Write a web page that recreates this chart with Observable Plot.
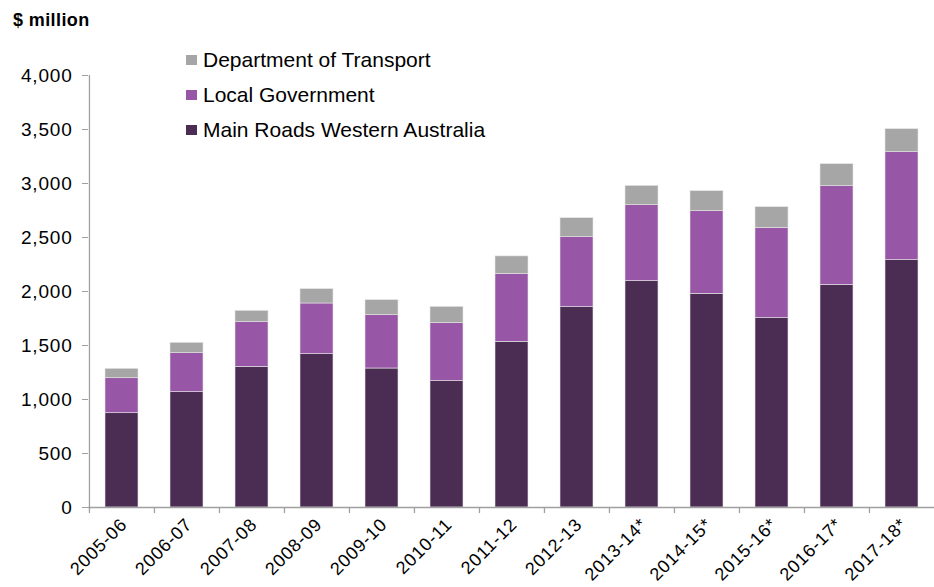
<!DOCTYPE html>
<html>
<head>
<meta charset="utf-8">
<script src="https://cdn.jsdelivr.net/npm/d3@7"></script>
<script src="https://cdn.jsdelivr.net/npm/@observablehq/plot@0.6"></script>
<style>
  body { margin: 0; background: #fff; }
  #wrap { position: relative; width: 934px; height: 587px; overflow: hidden; font-family: "Liberation Sans", Arial, sans-serif; }
  #unit { position: absolute; left: 13px; top: 10px; font-size: 18px; font-weight: bold; letter-spacing: 0.4px; color: #000; }
  #legend { position: absolute; left: 186px; top: 42px; font-size: 21px; color: #000; }
  .row { display: flex; align-items: center; height: 35px; }
  .sw { width: 11px; height: 10px; margin-right: 6px; }
  g[aria-label="y-axis tick label"] text { letter-spacing: 0.8px; }
  g[aria-label="x-axis tick label"] text { letter-spacing: 0.8px; }
</style>
</head>
<body>
<div id="wrap">
  <div id="chart"></div>
  <div id="unit">$ million</div>
  <div id="legend"></div>
</div>
<script>
const categories = ["2005-06","2006-07","2007-08","2008-09","2009-10","2010-11","2011-12","2012-13","2013-14*","2014-15*","2015-16*","2016-17*","2017-18*"];
const mainRoads = [873, 1068, 1302, 1420, 1287, 1170, 1534, 1855, 2096, 1978, 1753, 2062, 2290];
const localGov = [324, 361, 414, 469, 494, 537, 630, 648, 703, 766, 836, 913, 1000];
const transport = [87, 96, 105, 133, 139, 151, 161, 176, 179, 185, 192, 204, 213];
const seriesNames = ["Main Roads Western Australia", "Local Government", "Department of Transport"];
const seriesColors = ["#4b2d54", "#9856a6", "#a6a6a6"];
const yTicks = [0, 500, 1000, 1500, 2000, 2500, 3000, 3500, 4000];

const seriesValues = [mainRoads, localGov, transport];
const rows = [];
seriesNames.forEach((s, si) => categories.forEach((c, i) => rows.push({cat: c, series: s, value: seriesValues[si][i]})));

const W = 934, H = 587, mL = 88, mR = 0, mT = 75, mB = 80;
const step = (W - mL - mR) / categories.length;
const axisGrey = "#a0a0a0";

const chart = Plot.plot({
  width: W, height: H,
  marginLeft: mL, marginRight: mR, marginTop: mT, marginBottom: mB,
  style: {fontFamily: "Liberation Sans, Arial, sans-serif", background: "white", color: "#000", overflow: "visible"},
  x: {domain: categories, paddingInner: 0.5, paddingOuter: 0.25, label: null},
  y: {domain: [0, 4000], label: null},
  color: {domain: seriesNames, range: seriesColors},
  marks: [
    Plot.barY(rows, Plot.stackY({order: seriesNames}, {x: "cat", y: "value", fill: "series", stroke: "#e6e6e6", strokeWidth: 0.6})),
    Plot.axisY({ticks: yTicks, tickFormat: d3.format(","), tickSize: 6, tickPadding: 10, fontSize: 19, stroke: axisGrey, label: null}),
    Plot.ruleX([categories[0]], {dx: -step / 2, y1: 0, y2: 4000, stroke: axisGrey, strokeWidth: 1.3}),
    Plot.ruleX(categories, {dx: -step / 2, y1: 0, y2: -56, stroke: axisGrey, strokeWidth: 1.3}),
    Plot.ruleY([0], {stroke: axisGrey, strokeWidth: 1.3}),
    Plot.axisX({tickSize: 0, tickPadding: 14, tickRotate: -45, fontSize: 18, dx: 2, label: null})
  ]
});
document.getElementById("chart").appendChild(chart);

const legend = document.getElementById("legend");
[2, 1, 0].forEach(i => {
  const r = document.createElement("div");
  r.className = "row";
  r.innerHTML = `<div class="sw" style="background:${seriesColors[i]}"></div><span>${seriesNames[i]}</span>`;
  legend.appendChild(r);
});
</script>
</body>
</html>
